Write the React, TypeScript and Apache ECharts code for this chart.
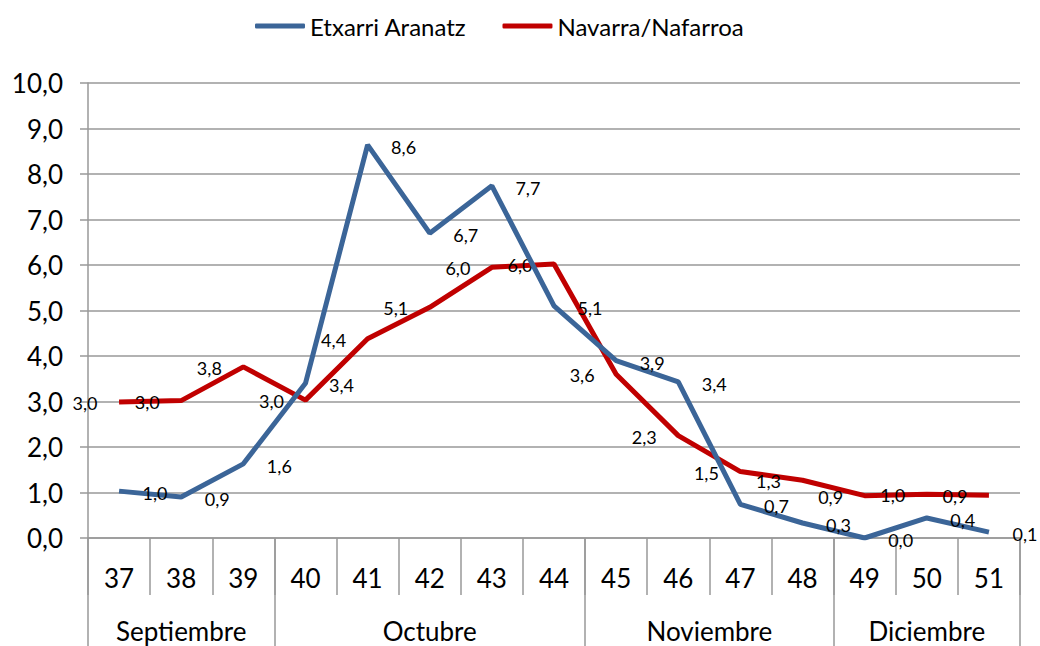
import React, { useEffect, useRef } from "react";
import * as echarts from "echarts";

const weeks = ["37", "38", "39", "40", "41", "42", "43", "44", "45", "46", "47", "48", "49", "50", "51"];
const etxarri = [1.03, 0.9, 1.63, 3.4, 8.64, 6.7, 7.74, 5.1, 3.9, 3.43, 0.74, 0.33, 0.0, 0.44, 0.13];
const navarra = [2.99, 3.02, 3.76, 3.03, 4.38, 5.07, 5.95, 6.02, 3.6, 2.25, 1.46, 1.27, 0.93, 0.96, 0.94];
// month row: half-week positions 0..30 (boundaries at 0, 6, 16, 24, 30)
const monthNames = ["Septiembre", "Octubre", "Noviembre", "Diciembre"];
const monthCenters = [3, 11, 20, 27];
const monthBounds = [0, 6, 16, 24, 30];
const yTicks = [0, 1, 2, 3, 4, 5, 6, 7, 8, 9, 10];

const FONT = "Lato";
const GRAY = "#999999";
const BLUE = "#3B6598";
const RED = "#C00000";

const fmt = (v: number) => v.toFixed(1).replace(".", ",");

export default function App() {
  const ref = useRef<HTMLDivElement>(null);
  useEffect(() => {
    if (!ref.current) return;
    const chart = echarts.init(ref.current, undefined, { renderer: "svg" });
    const monthSlots: string[] = [];
    for (let i = 0; i <= 30; i++) {
      const k = monthCenters.indexOf(i);
      monthSlots.push(k >= 0 ? monthNames[k] : "s" + i);
    }
    const labelStyle = (dx: number, dy: number) => ({
      show: true,
      position: "inside" as const,
      offset: [dx, dy],
      formatter: (p: any) => fmt(p.value),
      fontFamily: FONT,
      fontSize: 18,
      color: "#000",
    });
    chart.setOption({
      animation: false,
      backgroundColor: "#fff",
      textStyle: { fontFamily: FONT },
      legend: {
        top: 9,
        left: 250,
        itemWidth: 50,
        itemHeight: 5,
        itemGap: 36,
        icon: "roundRect",
        textStyle: { fontFamily: FONT, fontSize: 24, color: "#000" },
        data: [
          { name: "Etxarri Aranatz", itemStyle: { color: BLUE } },
          { name: "Navarra/Nafarroa", itemStyle: { color: RED } },
        ],
      },
      grid: { left: 88, right: 20, top: 83, bottom: 108, containLabel: false },
      xAxis: [
        {
          type: "category",
          data: weeks,
          boundaryGap: true,
          axisLine: { show: true, lineStyle: { color: GRAY, width: 1.5 } },
          axisTick: { show: true, interval: 0, length: 57, alignWithLabel: false, lineStyle: { color: GRAY, width: 1.5 } },
          axisLabel: { interval: 0, margin: 27, fontFamily: FONT, fontSize: 26, color: "#000" },
        },
        {
          type: "category",
          data: monthSlots,
          boundaryGap: false,
          position: "bottom",
          axisLine: { show: false },
          axisTick: {
            show: true,
            length: 110,
            interval: (i: number) => monthBounds.indexOf(i) >= 0,
            lineStyle: { color: GRAY, width: 1.5 },
          },
          axisLabel: {
            interval: (i: number) => monthCenters.indexOf(i) >= 0,
            margin: 80,
            fontFamily: FONT,
            fontSize: 26,
            color: "#000",
          },
        },
      ],
      yAxis: {
        type: "value",
        min: yTicks[0],
        max: yTicks[yTicks.length - 1],
        interval: 1,
        axisLine: { show: true, lineStyle: { color: GRAY, width: 1.5 } },
        axisTick: { show: true, length: 8, lineStyle: { color: GRAY, width: 1.5 } },
        splitLine: { show: true, lineStyle: { color: GRAY, width: 1.5 } },
        axisLabel: { formatter: (v: number) => fmt(v), margin: 25, fontFamily: FONT, fontSize: 26, color: "#000" },
      },
      series: [
        {
          name: "Etxarri Aranatz",
          type: "line",
          data: etxarri,
          xAxisIndex: 0,
          symbol: "circle",
          symbolSize: 0.01,
          showSymbol: true,
          itemStyle: { color: BLUE },
          lineStyle: { color: BLUE, width: 5 },
          label: labelStyle(36, 2),
          z: 3,
        },
        {
          name: "Navarra/Nafarroa",
          type: "line",
          data: navarra,
          xAxisIndex: 0,
          symbol: "circle",
          symbolSize: 0.01,
          showSymbol: true,
          itemStyle: { color: RED },
          lineStyle: { color: RED, width: 5 },
          label: labelStyle(-34, 1),
          z: 2,
        },
      ],
    });
    return () => chart.dispose();
  }, []);
  return (
    <div
      ref={ref}
      style={{ position: "fixed", left: 0, top: 0, width: 1040, height: 646, background: "#fff" }}
    />
  );
}
